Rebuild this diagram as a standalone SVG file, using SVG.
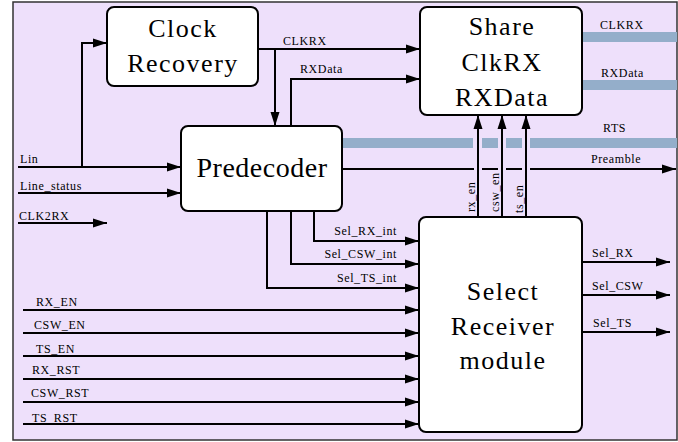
<svg xmlns="http://www.w3.org/2000/svg" width="678" height="442" viewBox="0 0 678 442">
<defs>
<marker id="arr" markerUnits="userSpaceOnUse" markerWidth="14" markerHeight="10" refX="14" refY="5" orient="auto">
<path d="M0,0.5 L14,5 L0,9.5 z" fill="#000"/>
</marker>
<style>
.box{fill:#fff;stroke:#000;stroke-width:2}
.big{font-family:"Liberation Serif","Times New Roman",serif;font-size:26px;letter-spacing:1.5px;fill:#000;text-anchor:middle}
.lbl{font-family:"Liberation Serif","Times New Roman",serif;font-size:12px;letter-spacing:0.6px;fill:#000}
.w{fill:none;stroke:#000;stroke-width:2}
.a{marker-end:url(#arr)}
.bus{fill:#94aeca}
</style>
</defs>
<rect x="13" y="2" width="664" height="438" fill="#eee0fb" stroke="#333" stroke-width="1.5"/>
<g id="connectors">
<path class="w a" d="M18,167 L181,167"/>
<path class="w a" d="M82,167 L82,43 L107,43"/>
<path class="w a" d="M18,193 L181,193"/>
<path class="w a" d="M18,223 L107,223"/>
<path class="w a" d="M258,49 L420,49"/>
<path class="w a" d="M275,49 L275,126"/>
<path class="w a" d="M291,126 L291,79 L420,79"/>
<rect class="bus" x="582" y="32" width="95" height="10"/>
<rect class="bus" x="582" y="80" width="95" height="10"/>
<path class="bus" d="M342,138 H473 V148 H342 Z M482,138 H498 V148 H482 Z M506,138 H522 V148 H506 Z M530,138 H677 V148 H530 Z"/>
<path class="w" d="M342,169 H474 M482,169 H498 M506,169 H522"/>
<path class="w a" d="M530,169 L676,169"/>
<path class="w a" d="M478,217 L478,115"/>
<path class="w a" d="M502,217 L502,115"/>
<path class="w a" d="M526,217 L526,115"/>
<path class="w a" d="M314,211 L314,241 L419,241"/>
<path class="w a" d="M291,211 L291,264 L419,264"/>
<path class="w a" d="M267,211 L267,288 L419,288"/>
<path class="w a" d="M23,310 L419,310"/>
<path class="w a" d="M23,333 L419,333"/>
<path class="w a" d="M23,356 L419,356"/>
<path class="w a" d="M23,379 L419,379"/>
<path class="w a" d="M23,402 L419,402"/>
<path class="w a" d="M23,424 L419,424"/>
<path class="w a" d="M582,262 L670,262"/>
<path class="w a" d="M582,295 L670,295"/>
<path class="w a" d="M582,332 L670,332"/>
<text class="lbl" x="20" y="163">Lin</text>
<text class="lbl" x="20" y="190">Line_status</text>
<text class="lbl" x="19" y="220">CLK2RX</text>
<text class="lbl" x="283" y="45">CLKRX</text>
<text class="lbl" x="300" y="73">RXData</text>
<text class="lbl" x="600" y="29">CLKRX</text>
<text class="lbl" x="601" y="77">RXData</text>
<text class="lbl" x="603" y="132">RTS</text>
<text class="lbl" x="591" y="163">Preamble</text>
<text class="lbl" transform="translate(475,212) rotate(-90)">rx_en</text>
<text class="lbl" transform="translate(499,212) rotate(-90)">csw_en</text>
<text class="lbl" transform="translate(523,213) rotate(-90)">ts_en</text>
<text class="lbl" x="397" y="235" text-anchor="end">Sel_RX_int</text>
<text class="lbl" x="397" y="258" text-anchor="end">Sel_CSW_int</text>
<text class="lbl" x="397" y="282" text-anchor="end">Sel_TS_int</text>
<text class="lbl" x="36" y="306">RX_EN</text>
<text class="lbl" x="34" y="329">CSW_EN</text>
<text class="lbl" x="36" y="353">TS_EN</text>
<text class="lbl" x="32" y="374">RX_RST</text>
<text class="lbl" x="31" y="397">CSW_RST</text>
<text class="lbl" x="32" y="422">TS_RST</text>
<text class="lbl" x="592" y="257">Sel_RX</text>
<text class="lbl" x="592" y="290">Sel_CSW</text>
<text class="lbl" x="593" y="327">Sel_TS</text>
</g>
<g id="clock-recovery">
<rect class="box" x="107" y="7" width="151" height="79" rx="7"/>
<text class="big" x="183" y="37">Clock</text>
<text class="big" x="183" y="72">Recovery</text>
</g>
<g id="predecoder">
<rect class="box" x="181" y="126" width="161" height="85" rx="7"/>
<text class="big" x="262" y="177" style="font-size:28px;letter-spacing:0.5px">Predecoder</text>
</g>
<g id="share">
<rect class="box" x="420" y="7" width="162" height="108" rx="7"/>
<text class="big" x="502" y="35">Share</text>
<text class="big" x="502" y="71">ClkRX</text>
<text class="big" x="502" y="106">RXData</text>
</g>
<g id="select-receiver">
<rect class="box" x="419" y="217" width="163" height="215" rx="7"/>
<text class="big" x="503" y="300">Select</text>
<text class="big" x="503" y="335">Receiver</text>
<text class="big" x="503" y="369">module</text>
</g>
</svg>
